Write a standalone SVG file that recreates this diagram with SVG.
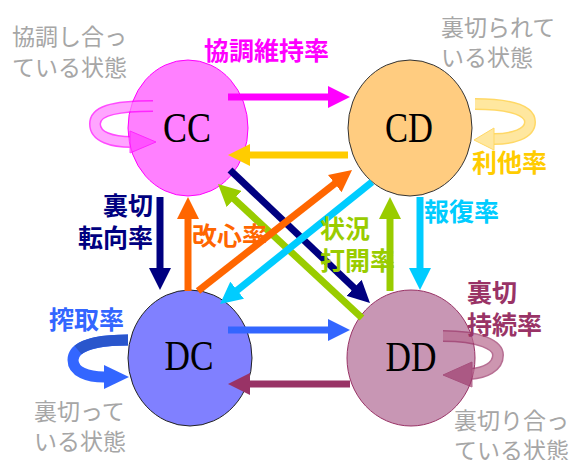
<svg xmlns="http://www.w3.org/2000/svg" width="574" height="460" viewBox="0 0 574 460">
<style>
.node{font-family:"Liberation Serif","DejaVu Serif",serif;font-size:42px;fill:#000;text-anchor:middle}
.lbl{font-family:"Noto Sans CJK JP","Noto Sans",sans-serif;font-size:25px;font-weight:bold}
.gray{font-family:"Noto Sans CJK JP","Noto Sans",sans-serif;font-size:23px;fill:#a6a6a6}
.ar{fill:none;stroke-width:7}
</style>
<defs>
<marker id="hMag" viewBox="0 0 22 22" markerUnits="userSpaceOnUse" markerWidth="22" markerHeight="22" refX="10" refY="11" orient="auto"><path d="M0,0 L22,11 L0,22 z" fill="#ff00ff"/></marker>
<marker id="hYel" viewBox="0 0 22 22" markerUnits="userSpaceOnUse" markerWidth="22" markerHeight="22" refX="10" refY="11" orient="auto"><path d="M0,0 L22,11 L0,22 z" fill="#ffcc00"/></marker>
<marker id="hNav" viewBox="0 0 22 22" markerUnits="userSpaceOnUse" markerWidth="22" markerHeight="22" refX="10" refY="11" orient="auto"><path d="M0,0 L22,11 L0,22 z" fill="#000080"/></marker>
<marker id="hOra" viewBox="0 0 22 22" markerUnits="userSpaceOnUse" markerWidth="22" markerHeight="22" refX="10" refY="11" orient="auto"><path d="M0,0 L22,11 L0,22 z" fill="#ff6600"/></marker>
<marker id="hCya" viewBox="0 0 22 22" markerUnits="userSpaceOnUse" markerWidth="22" markerHeight="22" refX="10" refY="11" orient="auto"><path d="M0,0 L22,11 L0,22 z" fill="#00ccff"/></marker>
<marker id="hGrn" viewBox="0 0 22 22" markerUnits="userSpaceOnUse" markerWidth="22" markerHeight="22" refX="10" refY="11" orient="auto"><path d="M0,0 L22,11 L0,22 z" fill="#99cc00"/></marker>
<marker id="hBlu" viewBox="0 0 22 22" markerUnits="userSpaceOnUse" markerWidth="22" markerHeight="22" refX="10" refY="11" orient="auto"><path d="M0,0 L22,11 L0,22 z" fill="#3366ff"/></marker>
<marker id="hMar" viewBox="0 0 22 22" markerUnits="userSpaceOnUse" markerWidth="22" markerHeight="22" refX="10" refY="11" orient="auto"><path d="M0,0 L22,11 L0,22 z" fill="#993366"/></marker>
</defs>

<g id="CC">
<ellipse cx="188" cy="128" rx="60" ry="68" fill="#ff80ff" stroke="#ff00ff" stroke-width="1"/>
<text class="node" x="187" y="142" textLength="48" lengthAdjust="spacingAndGlyphs">CC</text>
</g>
<g id="CD">
<ellipse cx="410" cy="128" rx="62" ry="68" fill="#ffcc80" stroke="#333" stroke-width="1"/>
<text class="node" x="409" y="142" textLength="48" lengthAdjust="spacingAndGlyphs">CD</text>
</g>
<g id="DC">
<ellipse cx="190" cy="358" rx="62" ry="68" fill="#8080ff" stroke="#222" stroke-width="1"/>
<text class="node" x="189" y="370" textLength="49" lengthAdjust="spacingAndGlyphs">DC</text>
</g>
<g id="DD">
<ellipse cx="411" cy="358" rx="64" ry="68" fill="#c896b4" stroke="#993366" stroke-width="1"/>
<text class="node" x="411" y="371" textLength="51" lengthAdjust="spacingAndGlyphs">DD</text>
</g>

<g id="connectors">
<path class="ar" stroke="#ff00ff" d="M228,97 L338,97" marker-end="url(#hMag)"/>
<path class="ar" stroke="#ffcc00" d="M348,155 L240,155" marker-end="url(#hYel)"/>
<path class="ar" stroke="#000080" d="M160,197 L160,278" marker-end="url(#hNav)"/>
<path class="ar" stroke="#ff6600" d="M188,291 L188,209" marker-end="url(#hOra)"/>
<path class="ar" stroke="#00ccff" d="M420,197 L420,278" marker-end="url(#hCya)"/>
<path class="ar" stroke="#99cc00" d="M390,291 L390,209" marker-end="url(#hGrn)"/>
<path class="ar" stroke="#3366ff" d="M228,330 L338,330" marker-end="url(#hBlu)"/>
<path class="ar" stroke="#993366" d="M350,384 L240,384" marker-end="url(#hMar)"/>
<path class="ar" stroke="#99cc00" d="M362,318 L226.8,192.2" marker-end="url(#hGrn)"/>
<path class="ar" stroke="#000080" d="M230,170 L361.3,294.7" marker-end="url(#hNav)"/>
<path class="ar" stroke="#ff6600" d="M198,291 L342.6,177.4" marker-end="url(#hOra)"/>
<path class="ar" stroke="#00ccff" d="M372,182 L229.4,296.5" marker-end="url(#hCya)"/>

<g id="loopCC" opacity="0.7">
<path d="M153,106 C110,106 95,112 95,124 C95,137 112,142 132,142" fill="none" stroke="#ff00ff" stroke-width="12"/>
<path d="M153,106 C110,106 95,112 95,124 C95,137 112,142 132,142" fill="none" stroke="#ff80ff" stroke-width="9"/>
<polygon points="130,131 156,142 130,153" fill="#ff40ff" stroke="#ff00ff" stroke-width="1"/>
</g>
<g id="loopCD" opacity="0.75">
<path d="M475,104 C515,104 530,112 530,122 C530,134 512,139 494,139" fill="none" stroke="#ffcc33" stroke-width="12"/>
<path d="M475,104 C515,104 530,112 530,122 C530,134 512,139 494,139" fill="none" stroke="#ffe080" stroke-width="9"/>
<polygon points="494,128 474,140 494,150" fill="#ffe080" stroke="#ffcc33" stroke-width="1"/>
</g>
<g id="loopDC">
<path d="M128,340 C90,340 73,348 73,360 C73,372 88,377 104,377" fill="none" stroke="#3366ff" stroke-width="11"/>
<path d="M128,340 C100,340 85,344 78,350" fill="none" stroke="#2a56cc" stroke-width="11"/>
<polygon points="104,365 129,377 104,389" fill="#3366ff"/>
</g>
<g id="loopDD" opacity="0.7">
<path d="M443,336 C480,336 498,345 498,355 C498,367 485,373 470,374" fill="none" stroke="#993366" stroke-width="12"/>
<path d="M443,336 C480,336 498,345 498,355 C498,367 485,373 470,374" fill="none" stroke="#b86a90" stroke-width="9"/>
<polygon points="472,362 443,375 472,387" fill="#a04070" stroke="#993366" stroke-width="1"/>
</g>
</g>

<g id="labels">
<text class="gray" x="12" y="45">協調し合っ</text>
<text class="gray" x="12" y="76">ている状態</text>
<text class="lbl" x="204" y="60" fill="#ff00ff">協調維持率</text>
<text class="gray" x="441" y="36">裏切られて</text>
<text class="gray" x="441" y="66">いる状態</text>
<text class="lbl" x="472" y="172" fill="#ffcc00">利他率</text>
<text class="lbl" x="424" y="221" fill="#00ccff">報復率</text>
<text class="lbl" x="153" y="215" fill="#000080" text-anchor="end">裏切</text>
<text class="lbl" x="153" y="247" fill="#000080" text-anchor="end">転向率</text>
<text class="lbl" x="192" y="245" fill="#ff6600">改心率</text>
<text class="lbl" x="320" y="238" fill="#99cc00">状況</text>
<text class="lbl" x="320" y="270" fill="#99cc00">打開率</text>
<text class="lbl" x="49" y="329" fill="#3366ff">搾取率</text>
<text class="gray" x="34" y="420">裏切って</text>
<text class="gray" x="34" y="450">いる状態</text>
<text class="lbl" x="467" y="302" fill="#993366">裏切</text>
<text class="lbl" x="467" y="334" fill="#993366">持続率</text>
<text class="gray" x="454" y="429">裏切り合っ</text>
<text class="gray" x="454" y="459">ている状態</text>
</g>
</svg>
